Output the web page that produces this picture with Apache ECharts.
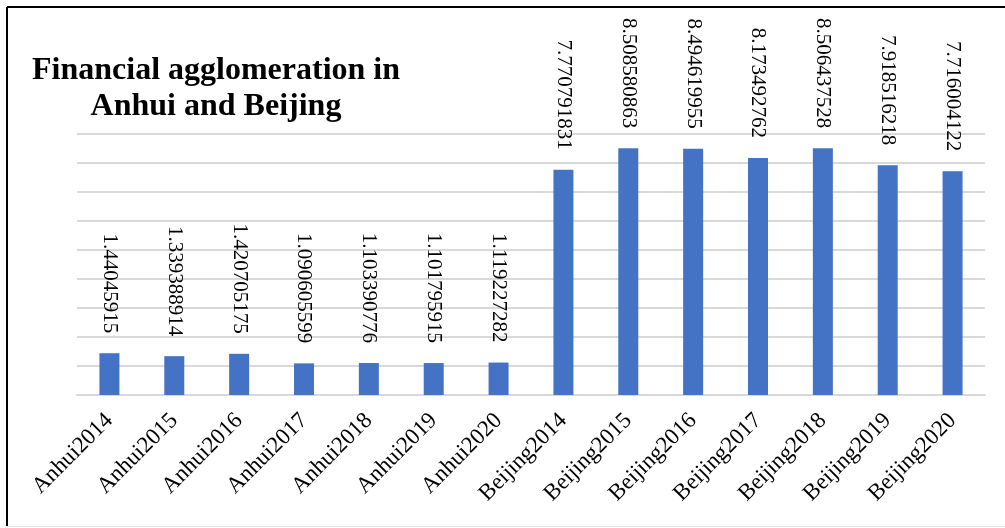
<!DOCTYPE html>
<html>
<head>
<meta charset="utf-8">
<script src="https://cdn.jsdelivr.net/npm/echarts@6/dist/echarts.min.js"></script>
<style>
  html, body { margin: 0; padding: 0; background: #fff; }
  #chart { width: 1005px; height: 528px; }
</style>
</head>
<body>
<div id="chart"></div>
<script>
// categories and values
const categories = [
  'Anhui2014', 'Anhui2015', 'Anhui2016', 'Anhui2017', 'Anhui2018', 'Anhui2019', 'Anhui2020',
  'Beijing2014', 'Beijing2015', 'Beijing2016', 'Beijing2017', 'Beijing2018', 'Beijing2019', 'Beijing2020'
];
const values = [
  1.44045915, 1.339388914, 1.420705175, 1.090605599, 1.103390776, 1.101795915, 1.119227282,
  7.770791831, 8.508580863, 8.494619955, 8.173492762, 8.506437528, 7.918516218, 7.716004122
];
const titleText = 'Financial agglomeration in\nAnhui and Beijing';

const chart = echarts.init(document.getElementById('chart'));

chart.setOption({
  backgroundColor: '#fff',
  animation: false,
  title: {
    text: titleText,
    left: 211,
    top: 48,
    textAlign: 'center',
    textStyle: {
      fontFamily: 'Liberation Serif',
      fontSize: 32,
      fontWeight: 'bold',
      lineHeight: 36,
      color: '#000',
      align: 'center'
    }
  },
  grid: {
    left: 77,
    right: 20,
    top: 134,
    bottom: 133
  },
  xAxis: {
    type: 'category',
    data: categories,
    axisLine: { lineStyle: { color: '#d9d9d9', width: 2 } },
    axisTick: { show: false },
    axisLabel: {
      rotate: 45,
      interval: 0,
      margin: 22,
      fontFamily: 'Liberation Serif',
      fontSize: 23,
      color: '#000'
    }
  },
  yAxis: {
    type: 'value',
    min: 0,
    max: 9,
    interval: 1,
    axisLabel: { show: false },
    axisLine: { show: false },
    axisTick: { show: false },
    splitLine: { lineStyle: { color: '#d9d9d9', width: 2 } }
  },
  series: [
    {
      type: 'bar',
      data: values,
      barWidth: 20,
      itemStyle: { color: '#4472C4' },
      label: {
        show: true,
        position: 'top',
        distance: 18,
        rotate: -90,
        align: 'right',
        verticalAlign: 'middle',
        offset: [-2, 0],
        fontFamily: 'Liberation Serif',
        fontSize: 21,
        color: '#000'
      }
    }
  ],
  graphic: [
    { type: 'line', shape: { x1: 7, y1: 7, x2: 1005, y2: 7 }, style: { stroke: '#000', lineWidth: 2 } },
    { type: 'line', shape: { x1: 7, y1: 7, x2: 7, y2: 526 }, style: { stroke: '#000', lineWidth: 2 } },
    { type: 'line', shape: { x1: 7, y1: 526.5, x2: 1005, y2: 526.5 }, style: { stroke: '#e6e6e6', lineWidth: 1 } }
  ]
});
</script>
</body>
</html>
